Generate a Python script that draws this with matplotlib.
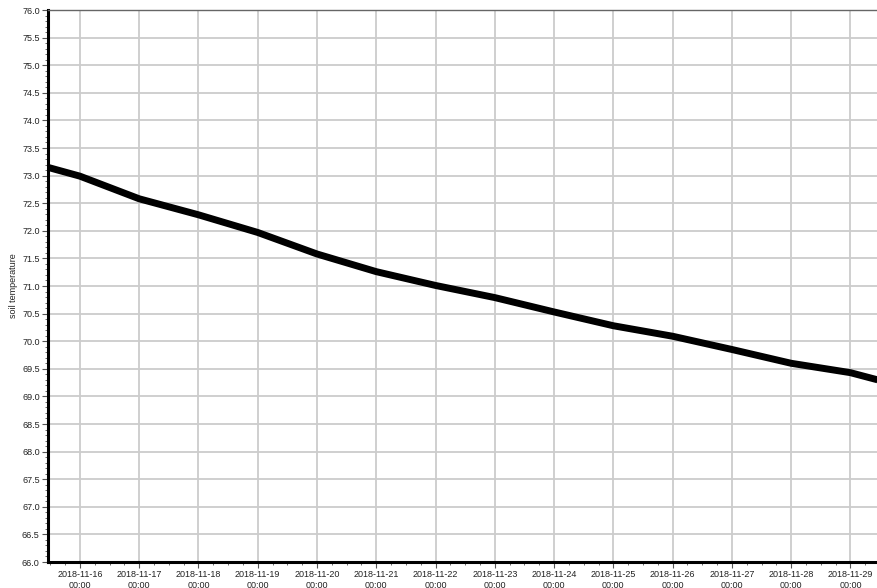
import matplotlib
matplotlib.use('Agg')
import matplotlib.pyplot as plt
import matplotlib.dates as mdates
from matplotlib.ticker import MultipleLocator
import pandas as pd

# readings (band centre)
times = ['2018-11-15 11:00', '2018-11-16 00:00', '2018-11-17 00:00', '2018-11-18 00:00',
         '2018-11-19 00:00', '2018-11-20 00:00', '2018-11-21 00:00', '2018-11-22 00:00',
         '2018-11-23 00:00', '2018-11-24 00:00', '2018-11-25 00:00',
         '2018-11-26 00:00', '2018-11-27 00:00', '2018-11-28 00:00', '2018-11-29 00:00',
         '2018-11-29 11:00']
soil_temp = [73.15, 72.99, 72.58, 72.29, 71.97, 71.58, 71.26, 71.01,
             70.79, 70.53, 70.28, 70.09, 69.85, 69.6, 69.43, 69.3]

t = pd.to_datetime(times)

plt.rcParams['font.family'] = ['Liberation Sans', 'DejaVu Sans']
fig = plt.figure(figsize=(8.78, 5.88), dpi=100)
ax = fig.add_axes([48 / 878, 26 / 588, 830 / 878, 552 / 588])

ax.plot(t, soil_temp, color='black', linewidth=5.0, solid_joinstyle='round', solid_capstyle='butt')

ax.set_xlim(pd.Timestamp('2018-11-15 11:05'), pd.Timestamp('2018-11-29 11:10'))
ax.set_ylim(66, 76)
ax.yaxis.set_major_locator(MultipleLocator(0.5))
ax.yaxis.set_minor_locator(MultipleLocator(0.1))
ax.yaxis.set_major_formatter(matplotlib.ticker.FormatStrFormatter('%.1f'))
ax.xaxis.set_major_locator(mdates.DayLocator())
ax.xaxis.set_minor_locator(mdates.HourLocator(byhour=[6, 12, 18]))
ax.xaxis.set_major_formatter(mdates.DateFormatter('%Y-%m-%d\n%H:%M'))

ax.grid(True, which='major', color='#cccccc', linewidth=1.3)
ax.set_axisbelow(True)
ax.tick_params(which='both', direction='out', color='#555555', labelcolor='#222222', labelsize=6.5)
ax.tick_params(which='major', length=4, width=0.8, pad=2)
ax.tick_params(which='minor', length=2, width=0.6)
for lbl in ax.get_xticklabels():
    lbl.set_horizontalalignment('center')

for s in ['left', 'bottom']:
    ax.spines[s].set_linewidth(2.2)
    ax.spines[s].set_color('black')
ax.spines['top'].set_color('#666666')
ax.spines['top'].set_linewidth(1.0)
ax.spines['right'].set_visible(False)

ax.set_ylabel('soil temperature', fontsize=6.5, color='#222222', labelpad=3)

plt.savefig('out.png', dpi=100)
